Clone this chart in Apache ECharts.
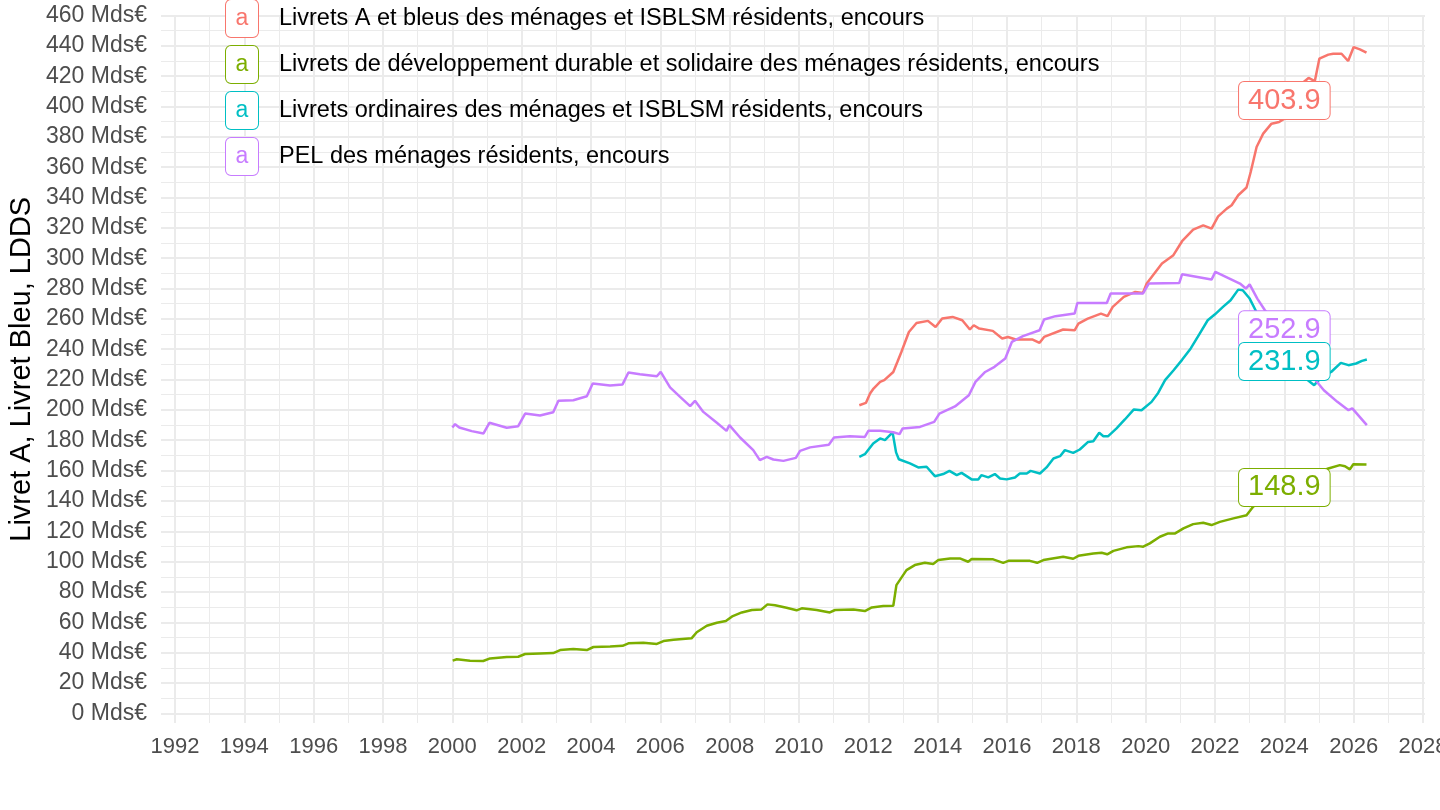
<!DOCTYPE html>
<html>
<head>
<meta charset="utf-8">
<title>Livret A, Livret Bleu, LDDS</title>
<script src="https://cdn.jsdelivr.net/npm/echarts@6/dist/echarts.min.js"></script>
<style>
  html, body { margin: 0; padding: 0; background: #fff; }
  #chart { width: 1440px; height: 810px; }
</style>
</head>
<body>
<div id="chart"></div>
<script>
var seriesNames = [
  'Livrets A et bleus des ménages et ISBLSM résidents, encours',
  'Livrets de développement durable et solidaire des ménages résidents, encours',
  'Livrets ordinaires des ménages et ISBLSM résidents, encours',
  'PEL des ménages résidents, encours'
];
var seriesColors = ['#F8766D', '#7CAE00', '#00BFC4', '#C77CFF'];

// [année, Mds€]
var livretA = [
  [2011.74, 203.1], [2011.93, 204.6], [2012.05, 210.8], [2012.15, 214.1], [2012.34, 218.5],
  [2012.46, 219.6], [2012.72, 225.0], [2012.84, 231.7], [2012.95, 238.0], [2013.17, 251.4],
  [2013.39, 257.3], [2013.72, 258.7], [2013.94, 254.7], [2014.13, 260.2], [2014.43, 261.3],
  [2014.71, 259.1], [2014.93, 253.0], [2015.04, 255.8], [2015.20, 253.6], [2015.59, 252.1],
  [2015.86, 247.1], [2016.03, 248.1], [2016.25, 246.4], [2016.74, 246.4], [2016.94, 244.2],
  [2017.07, 248.1], [2017.62, 253.0], [2017.95, 252.5], [2018.06, 256.9], [2018.33, 260.2],
  [2018.71, 263.5], [2018.90, 261.8], [2019.05, 267.9], [2019.37, 274.5], [2019.70, 277.8],
  [2019.92, 277.1], [2020.03, 283.3], [2020.47, 296.5], [2020.80, 302.0], [2021.05, 311.2],
  [2021.37, 318.9], [2021.66, 321.7], [2021.90, 319.5], [2022.09, 327.6], [2022.34, 332.7],
  [2022.48, 334.9], [2022.67, 341.5], [2022.91, 346.6], [2023.03, 356.8], [2023.20, 373.3],
  [2023.39, 382.1], [2023.63, 388.7], [2023.85, 389.8], [2024.00, 392.0], [2024.20, 397.0],
  [2024.40, 407.0], [2024.55, 416.0], [2024.70, 418.8], [2024.88, 416.8], [2025.01, 431.5],
  [2025.27, 434.2], [2025.41, 434.8], [2025.65, 434.8], [2025.84, 430.0], [2025.89, 429.3],
  [2026.00, 439.2], [2026.18, 437.7], [2026.37, 435.5]
];

var ldds = [
  [2000.01, 34.7], [2000.13, 35.6], [2000.51, 34.7], [2000.89, 34.5], [2001.09, 36.2],
  [2001.57, 37.1], [2001.90, 37.3], [2002.10, 39.1], [2002.53, 39.5], [2002.91, 39.7],
  [2003.11, 41.7], [2003.49, 42.4], [2003.88, 41.7], [2004.07, 43.7], [2004.55, 44.1],
  [2004.91, 44.5], [2005.08, 46.1], [2005.51, 46.5], [2005.90, 45.7], [2006.09, 47.6],
  [2006.38, 48.5], [2006.90, 49.4], [2007.05, 53.4], [2007.34, 57.7], [2007.63, 59.7],
  [2007.89, 60.8], [2008.09, 64.1], [2008.35, 66.5], [2008.64, 68.1], [2008.92, 68.5],
  [2009.09, 71.8], [2009.31, 71.2], [2009.64, 69.6], [2009.93, 67.9], [2010.08, 69.2],
  [2010.51, 68.1], [2010.89, 66.5], [2011.04, 68.1], [2011.57, 68.5], [2011.90, 67.4],
  [2012.10, 69.8], [2012.43, 70.7], [2012.72, 70.9], [2012.81, 84.5], [2013.10, 94.4],
  [2013.34, 97.7], [2013.63, 99.2], [2013.87, 98.4], [2014.02, 101.0], [2014.36, 102.1],
  [2014.64, 102.1], [2014.88, 99.9], [2014.98, 101.7], [2015.60, 101.5], [2015.89, 99.2],
  [2016.04, 100.5], [2016.66, 100.5], [2016.87, 99.2], [2017.05, 101.0], [2017.62, 103.2],
  [2017.91, 101.9], [2018.06, 103.8], [2018.49, 105.4], [2018.73, 105.8], [2018.89, 104.8],
  [2019.07, 107.1], [2019.45, 109.4], [2019.79, 110.2], [2019.93, 109.8], [2020.12, 112.0],
  [2020.41, 116.4], [2020.65, 118.6], [2020.85, 118.6], [2021.09, 121.9], [2021.37, 124.7],
  [2021.66, 125.6], [2021.90, 124.1], [2022.14, 126.2], [2022.53, 128.5], [2022.91, 130.6],
  [2023.10, 136.1], [2023.30, 140.0], [2023.60, 145.0], [2024.00, 148.9], [2024.40, 153.0],
  [2024.80, 157.0], [2025.10, 160.0], [2025.27, 161.4], [2025.60, 163.6], [2025.75, 162.9],
  [2025.89, 160.8], [2025.99, 164.2], [2026.37, 164.0]
];

var livretsOrdinaires = [
  [2011.74, 169.1], [2011.90, 170.8], [2012.14, 177.9], [2012.34, 181.2], [2012.48, 180.1],
  [2012.70, 185.2], [2012.80, 172.0], [2012.88, 167.5], [2013.20, 164.7], [2013.44, 162.1],
  [2013.68, 162.5], [2013.92, 156.3], [2014.16, 157.7], [2014.34, 159.8], [2014.55, 157.0],
  [2014.69, 158.5], [2014.98, 154.2], [2015.17, 154.2], [2015.26, 157.0], [2015.46, 155.5],
  [2015.65, 157.7], [2015.80, 154.8], [2015.99, 154.2], [2016.23, 155.5], [2016.37, 158.1],
  [2016.57, 158.1], [2016.68, 159.8], [2016.95, 158.1], [2017.14, 162.1], [2017.34, 168.0],
  [2017.53, 169.5], [2017.67, 173.5], [2017.91, 171.7], [2018.10, 173.9], [2018.34, 178.9],
  [2018.49, 179.4], [2018.66, 184.9], [2018.78, 182.7], [2018.92, 182.7], [2019.16, 187.8],
  [2019.40, 193.7], [2019.66, 200.3], [2019.88, 199.8], [2020.17, 205.3], [2020.36, 211.2],
  [2020.56, 219.6], [2020.80, 226.0], [2021.05, 233.0], [2021.30, 240.5], [2021.55, 250.0],
  [2021.79, 259.1], [2022.00, 263.0], [2022.23, 267.9], [2022.45, 272.3], [2022.67, 279.3],
  [2022.80, 278.9], [2023.00, 273.4], [2023.17, 265.7], [2023.40, 252.0], [2023.70, 240.0],
  [2024.00, 231.9], [2024.30, 226.0], [2024.60, 221.0], [2024.86, 216.3], [2025.08, 221.8],
  [2025.35, 225.0], [2025.63, 231.0], [2025.85, 229.5], [2026.07, 230.6], [2026.24, 232.3],
  [2026.38, 233.2]
];

var pel = [
  [2000.00, 188.4], [2000.08, 190.6], [2000.20, 188.4], [2000.56, 186.0], [2000.90, 184.5],
  [2001.07, 191.5], [2001.57, 188.2], [2001.90, 189.3], [2002.10, 197.6], [2002.53, 196.3],
  [2002.91, 198.5], [2003.06, 206.0], [2003.49, 206.4], [2003.88, 209.0], [2004.05, 217.4],
  [2004.55, 216.1], [2004.91, 216.8], [2005.08, 224.7], [2005.41, 223.5], [2005.90, 222.2],
  [2006.01, 225.1], [2006.28, 214.8], [2006.57, 208.6], [2006.86, 202.5], [2007.00, 206.0],
  [2007.24, 198.7], [2007.63, 191.5], [2007.91, 186.2], [2007.99, 190.0], [2008.30, 181.8],
  [2008.68, 173.5], [2008.87, 166.9], [2009.07, 169.1], [2009.26, 167.3], [2009.55, 166.4],
  [2009.91, 168.4], [2010.03, 173.0], [2010.32, 175.3], [2010.86, 177.0], [2011.01, 181.8],
  [2011.47, 182.7], [2011.90, 182.2], [2012.00, 186.2], [2012.34, 186.2], [2012.72, 185.3],
  [2012.90, 184.0], [2012.99, 187.8], [2013.49, 188.8], [2013.90, 192.1], [2014.05, 197.6],
  [2014.50, 202.3], [2014.90, 209.7], [2015.09, 218.5], [2015.37, 225.0], [2015.64, 228.4],
  [2015.95, 233.9], [2016.14, 244.8], [2016.46, 248.6], [2016.94, 252.5], [2017.07, 259.6],
  [2017.40, 261.8], [2017.95, 263.5], [2018.03, 270.5], [2018.88, 270.5], [2018.99, 276.7],
  [2019.92, 276.7], [2020.09, 283.3], [2020.97, 283.7], [2021.05, 289.4], [2021.90, 285.9],
  [2022.01, 291.0], [2022.72, 283.3], [2022.89, 280.0], [2023.00, 282.8], [2023.22, 273.4],
  [2023.44, 265.7], [2023.70, 259.0], [2024.00, 252.9], [2024.30, 244.0], [2024.60, 231.0],
  [2024.86, 220.7], [2025.14, 213.0], [2025.53, 205.3], [2025.85, 199.8], [2025.96, 201.0],
  [2026.38, 190.0]
];

var seriesData = [livretA, ldds, livretsOrdinaires, pel];

// étiquettes posées en 2024
var labelYear = 2024;
var labelValues = [403.9, 148.9, 231.9, 252.9];
var labelOrder = [0, 1, 3, 2];

var xTicks = { min: 1992, max: 2028, step: 2 };
var yTicks = { min: 0, max: 460, step: 20 };

// panel layout (pixels)
var panelTop = 15.5, zeroY = 713.3, panelBottom = 723;
var panelLeft = 161, panelRight = 1425;
var x1992 = 175, x2028 = 1423;
var yBelowZero = -yTicks.max * (panelBottom - zeroY) / (zeroY - panelTop);

var gridColor = '#EBEBEB';
var axisTextColor = '#4D4D4D';
var font = 'Liberation Sans, Arial, sans-serif';

var chart = echarts.init(document.getElementById('chart'));

var series = seriesNames.map(function(name, i) {
  return {
    name: name,
    type: 'line',
    xAxisIndex: 1,
    yAxisIndex: 1,
    data: seriesData[i],
    showSymbol: false,
    symbol: 'none',
    lineStyle: { color: seriesColors[i], width: 2.5 },
    itemStyle: { color: seriesColors[i] },
    z: 2
  };
});

series.push({
  name: 'etiquettes',
  type: 'scatter',
  xAxisIndex: 1,
  yAxisIndex: 1,
  symbolSize: 1,
  itemStyle: { color: 'rgba(0,0,0,0)', opacity: 1 },
  z: 5,
  data: labelOrder.map(function(i) {
    return {
      value: [labelYear, labelValues[i]],
      label: {
        show: true,
        position: 'inside',
        formatter: labelValues[i].toFixed(1),
        fontSize: 29,
        fontFamily: font,
        color: seriesColors[i],
        backgroundColor: '#fff',
        borderColor: seriesColors[i],
        borderWidth: 1,
        borderRadius: 5,
        padding: [5, 9, 3, 9]
      }
    };
  })
});

var rich = {
  t: { fontSize: 23.5, color: '#000', padding: [0, 0, 0, 21], fontFamily: font }
};
seriesColors.forEach(function(c, i) {
  rich['k' + i] = {
    fontSize: 23,
    color: c,
    width: 32,
    height: 37,
    lineHeight: 37,
    align: 'center',
    borderColor: c,
    borderWidth: 1,
    borderRadius: 5,
    backgroundColor: '#fff',
    fontFamily: font
  };
});

var option = {
  backgroundColor: '#fff',
  animation: false,
  textStyle: { fontFamily: font },
  grid: [
    // lignes horizontales + étiquettes y
    { left: panelLeft, right: 1440 - panelRight, top: panelTop, height: zeroY - panelTop, outerBoundsMode: 'none', containLabel: false },
    // lignes verticales + données
    { left: x1992, right: 1440 - x2028, top: panelTop, height: panelBottom - panelTop, outerBoundsMode: 'none', containLabel: false }
  ],
  xAxis: [
    { gridIndex: 0, type: 'value', min: 0, max: 1, show: false },
    {
      gridIndex: 1, type: 'value',
      min: xTicks.min, max: xTicks.max, interval: xTicks.step,
      axisLine: { show: false },
      axisTick: { show: false },
      axisLabel: {
        fontSize: 22, color: axisTextColor, margin: 13, showMinLabel: true, showMaxLabel: true,
        formatter: function(v) { return String(v); }
      },
      splitLine: { show: true, lineStyle: { color: gridColor, width: 2 } },
      minorTick: { show: false, splitNumber: 2 },
      minorSplitLine: { show: true, lineStyle: { color: gridColor, width: 1 } }
    }
  ],
  yAxis: [
    {
      gridIndex: 0, type: 'value',
      min: yTicks.min, max: yTicks.max, interval: yTicks.step,
      axisLine: { show: false },
      axisTick: { show: false },
      axisLabel: {
        fontSize: 23, color: axisTextColor, margin: 14,
        formatter: function(v) { return v + ' Mds€'; }
      },
      splitLine: { show: true, lineStyle: { color: gridColor, width: 2 } },
      minorTick: { show: false, splitNumber: 2 },
      minorSplitLine: { show: true, lineStyle: { color: gridColor, width: 1 } }
    },
    {
      gridIndex: 1, type: 'value',
      min: yBelowZero, max: yTicks.max,
      axisLine: { show: false },
      axisTick: { show: false },
      axisLabel: { show: false },
      splitLine: { show: false },
      name: 'Livret A, Livret Bleu, LDDS',
      nameLocation: 'middle',
      nameGap: 139,
      nameTextStyle: { fontSize: 29, color: '#000' }
    }
  ],
  legend: {
    data: seriesNames,
    orient: 'vertical',
    left: 215,
    top: -6,
    itemGap: 7,
    icon: 'none',
    itemWidth: 1,
    itemHeight: 1,
    selectedMode: false,
    formatter: function(name) {
      return '{k' + seriesNames.indexOf(name) + '|a}{t|' + name + '}';
    },
    textStyle: { rich: rich }
  },
  series: series
};

chart.setOption(option);
</script>
</body>
</html>
